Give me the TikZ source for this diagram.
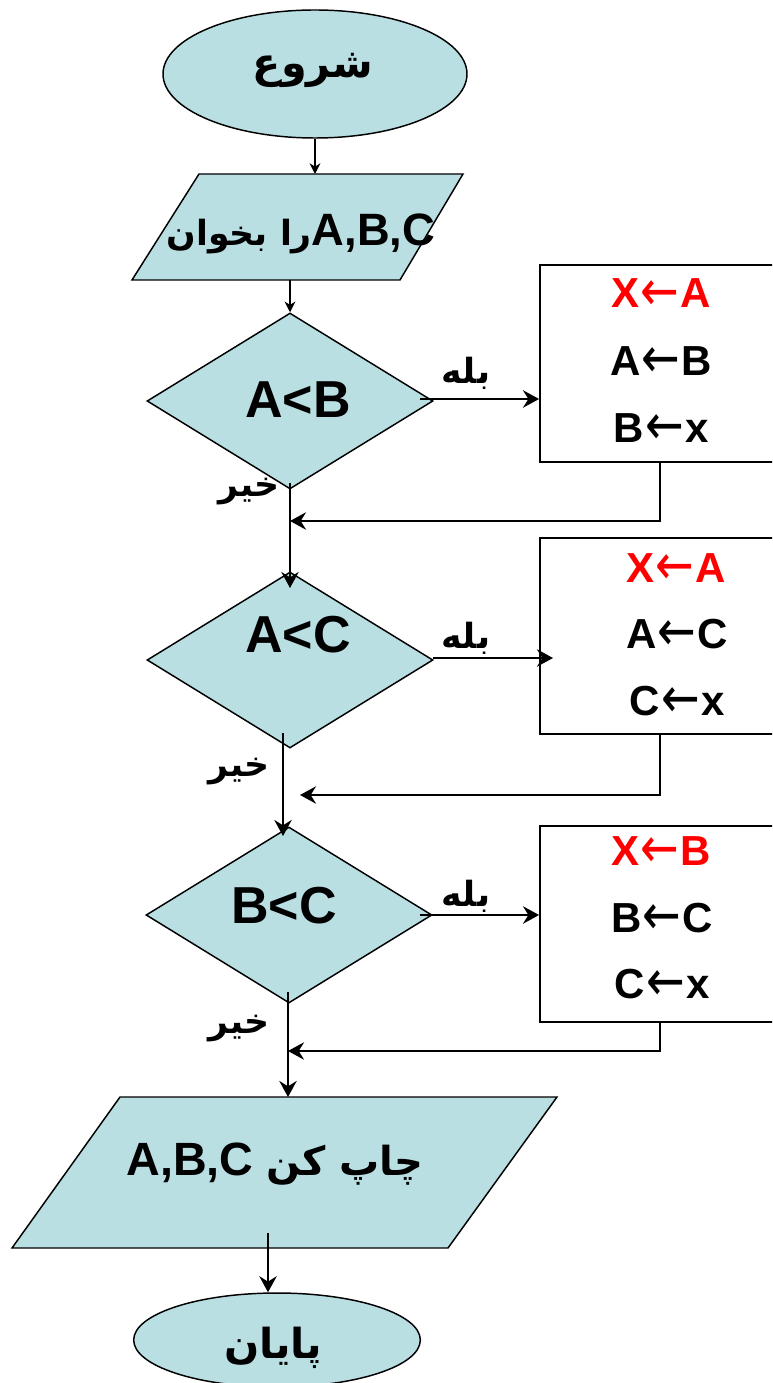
\documentclass[tikz,border=0pt]{standalone}
\usepackage{fontspec}
\setmainfont{Liberation Sans}
\newfontfamily\arfont[Script=Arabic]{DejaVu Sans}
\newfontfamily\symfont{DejaVu Sans}
\newcommand\larr{\kern0.03em\raisebox{-0.06em}{\scalebox{1.1}[1.35]{\symfont\fontseries{m}\selectfont ←}}\kern0.03em}
\TeXXeTstate=1
\usetikzlibrary{shapes.geometric,arrows.meta}
\definecolor{fillblue}{RGB}{185,223,227}
\definecolor{redtxt}{RGB}{255,0,0}
\begin{document}
\begin{tikzpicture}[x=0.75pt,y=-0.75pt,
  shapebox/.style={draw=black,line width=1.1pt,fill=fillblue,inner sep=0pt},
  stepbox/.style={draw=black,line width=1.4pt,fill=white,rectangle,inner sep=0pt},
  arr/.style={line width=2pt,-{Stealth[length=12pt,width=13pt,inset=4pt]}},
  arrthin/.style={line width=1.3pt,-{Stealth[length=8pt,width=8pt,inset=2.5pt]}},
  cond/.style={font=\bfseries\fontsize{39}{39}\selectfont,anchor=base,inner sep=0pt},
  asg/.style={font=\bfseries\fontsize{31.5}{31.5}\selectfont,anchor=base,inner sep=0pt},
  lbl/.style={font=\arfont\bfseries\fontsize{26}{26}\selectfont,inner sep=0pt},
  artxt/.style={font=\arfont\bfseries\fontsize{31}{31}\selectfont,inner sep=0pt}
]
\useasboundingbox (0,0) rectangle (772,1383);
\clip (0,0) rectangle (772,1383);

% start
\node[shapebox,ellipse,minimum width=228pt,minimum height=96pt] (start) at (315,74) {};
\node[artxt] (tstart) at (313,70) {\beginR شروع\endR};

% input parallelogram
\draw[shapebox] (199,174) -- (463,174) -- (400,280) -- (132,280) -- cycle;
\coordinate (p1top) at (315,174);
\coordinate (p1bot) at (290,280);
\node[anchor=base,inner sep=0pt] (tin) at (301,246) {{\arfont\bfseries\fontsize{26}{26}\selectfont\beginR را بخوان\endR}{\bfseries\fontsize{34}{34}\selectfont A,B,C}};

% diamonds
\node[shapebox,diamond,minimum width=214.5pt,minimum height=132pt] (d1) at (290,401) {};
\node[shapebox,diamond,minimum width=214.5pt,minimum height=132pt] (d2) at (290,660) {};
\node[shapebox,diamond,minimum width=214.5pt,minimum height=132pt] (d3) at (289,915) {};
\node[cond] (c1) at (298,417) {A<B};
\node[cond] (c2) at (298,652) {A<C};
\node[cond] (c3) at (284,923) {B<C};

% boxes
\node[stepbox,minimum width=180pt,minimum height=147.75pt] (b1) at (660,363.5) {};
\node[stepbox,minimum width=180pt,minimum height=147pt] (b2) at (660,636) {};
\node[stepbox,minimum width=180pt,minimum height=147pt] (b3) at (660,924) {};
\node[asg,text=redtxt] (a11) at (661,308) {X\larr A};
\node[asg] (a12) at (661,375) {A\larr B};
\node[asg] (a13) at (661,442) {B\larr x};
\node[asg,text=redtxt] (a21) at (676,582) {X\larr A};
\node[asg] (a22) at (677,648) {A\larr C};
\node[asg] (a23) at (677,715) {C\larr x};
\node[asg,text=redtxt] (a31) at (661,865) {X\larr B};
\node[asg] (a32) at (662,932) {B\larr C};
\node[asg] (a33) at (662,998) {C\larr x};

% output parallelogram
\draw[shapebox] (120,1097) -- (557,1097) -- (448,1248) -- (12,1248) -- cycle;
\coordinate (p2top) at (288,1097);
\coordinate (p2bot) at (268,1233);
\node[anchor=base,inner sep=0pt] (tout) at (275,1175) {{\bfseries\fontsize{35}{35}\selectfont A,B,C }{\arfont\bfseries\fontsize{30}{30}\selectfont\beginR چاپ کن\endR}};

% end
\node[shapebox,ellipse,minimum width=215pt,minimum height=70.5pt] (end) at (277,1340) {};
\node[artxt] (tend) at (273,1348) {\beginR پایان\endR};

% labels
\node[lbl] (y1) at (466,373) {\beginR بله\endR};
\node[lbl] (y2) at (466,638) {\beginR بله\endR};
\node[lbl] (y3) at (466,896) {\beginR بله\endR};
\node[lbl] (n1) at (249,492) {\beginR خیر\endR};
\node[lbl] (n2) at (239,772) {\beginR خیر\endR};
\node[lbl] (n3) at (239,1029) {\beginR خیر\endR};

% connector coordinates
\coordinate (d1r) at (420,399);
\coordinate (d1b) at (290,483);
\coordinate (j1) at (290,521);
\coordinate (d2t) at (290,588);
\coordinate (d2r) at (433,658);
\coordinate (b2in) at (553,658);
\coordinate (d2b) at (283,733);
\coordinate (j2) at (300,795);
\coordinate (d3t) at (283,836);
\coordinate (d3r) at (420,915);
\coordinate (d3b) at (288,992);
\coordinate (j3) at (288,1051);

% connectors
\draw[arrthin] (start.south) -- (p1top);
\draw[arrthin] (p1bot) -- (d1.north);
\draw[arr] (d1r) -- (d1r -| b1.west);
\draw[arr] (b1.south) -- (b1.south |- j1) -- (j1);
\draw[arr] (d1b) -- (d2t);
\draw[arr] (d2r) -- (b2in);
\draw[arr] (b2.south) -- (b2.south |- j2) -- (j2);
\draw[arr] (d2b) -- (d3t);
\draw[arr] (d3r) -- (d3r -| b3.west);
\draw[arr] (b3.south) -- (b3.south |- j3) -- (j3);
\draw[arr] (d3b) -- (p2top);
\draw[arr] (p2bot) -- (p2bot |- end.north);
\end{tikzpicture}
\end{document}
